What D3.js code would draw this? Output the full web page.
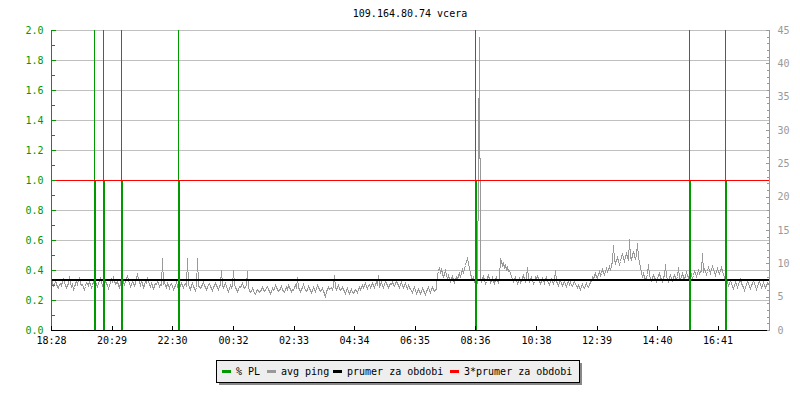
<!DOCTYPE html>
<html>
<head>
<meta charset="utf-8">
<script src="https://cdn.jsdelivr.net/npm/d3@7"></script>
<style>
  html, body { margin: 0; padding: 0; background: #ffffff; }
  svg { display: block; font-family: "DejaVu Sans Mono", monospace; }
</style>
</head>
<body>
<svg id="chart" width="800" height="400"></svg>
<script>
// ---------- data ----------
const title = "109.164.80.74 vcera";
const xTickLabels = ["18:28","20:29","22:30","00:32","02:33","04:34","06:35","08:36","10:38","12:39","14:40","16:41"];
const xTickMinutes = [0,121,242,364,485,606,727,848,970,1091,1212,1333]; // minutes after 18:28
const xDomainMinutes = [0, 1436];
const leftTicks = [0,0.2,0.4,0.6,0.8,1.0,1.2,1.4,1.6,1.8,2.0];
const rightTicks = [0,5,10,15,20,25,30,35,40,45];

// packet loss events (% PL), minutes after 18:28
const plTimes  = [86, 103, 140, 254, 847, 1275, 1347];
const plValues = [3.0, 3.0, 3.0, 3.0, 3.0, 3.0, 3.0];

// average ping (ms), one sample every 2 minutes from 18:28
const pingStepMin = 2;
const pingValues = [
  6.9,7.2,6.6,6.8,7.4,7.1,6.5,6.3,6.9,7.0,6.7,7.3,7.6,7.2,6.8,6.4,6.7,7.1,8.1,7.0,6.6,6.9,6.2,6.5,7.0,7.3,6.9,7.5,7.8,7.1,6.7,6.9,6.4,6.1,6.6,7.2,7.0,6.8,7.3,6.9,6.5,6.8,7.4,7.0,
  7.3,6.9,6.6,7.0,7.5,7.8,7.2,6.8,7.1,8.3,7.4,7.0,6.7,6.3,6.8,7.2,7.6,7.3,8.0,7.5,6.9,7.1,7.4,6.8,6.5,7.0,8.4,7.6,7.2,6.9,
  7.3,7.7,8.2,7.5,7.0,6.6,6.9,7.4,7.1,6.7,7.0,7.8,8.5,7.6,7.2,6.8,7.3,7.0,6.4,6.8,7.5,7.2,7.9,7.4,6.9,6.6,7.1,6.8,6.2,6.7,
  7.1,6.9,7.4,7.0,6.6,6.9,
  6.8,10.8,6.9,7.2,6.8,6.5,7.0,6.7,6.3,6.9,7.1,6.6,6.2,6.5,6.8,7.2,6.7,6.0,6.4,6.7,
  7.0,6.8,6.5,6.9,7.1,6.6,10.8,6.9,6.5,6.2,6.7,7.0,6.6,6.3,6.0,6.4,10.8,6.8,6.5,6.3,
  6.6,6.9,7.2,6.8,6.4,6.1,6.5,6.9,7.0,6.6,6.3,6.0,6.4,6.7,7.1,6.8,6.5,6.2,6.6,6.9,
  9.0,6.7,6.4,6.8,7.0,6.6,6.2,5.9,6.3,6.7,6.5,6.8,9.0,6.9,6.5,6.1,5.8,6.2,6.6,6.4,
  6.8,7.0,6.6,6.3,6.5,6.9,8.8,6.4,6.0,5.7,5.9,6.3,6.0,5.6,5.4,5.8,6.2,6.0,5.7,5.9,
  6.2,6.5,6.1,5.8,6.0,6.4,6.6,6.2,5.9,5.6,5.9,6.3,6.0,6.2,6.7,6.4,6.1,5.8,6.0,6.3,
  6.6,6.2,5.9,5.7,6.1,6.4,6.2,6.8,6.5,6.1,5.8,6.2,6.0,6.4,6.7,6.3,8.0,6.4,6.1,5.9,
  6.2,6.5,6.9,6.4,6.0,5.8,6.1,6.6,6.3,6.0,5.7,6.0,6.4,6.2,5.9,6.3,6.7,6.5,6.1,5.8,
  6.0,6.3,5.9,5.6,4.9,5.8,6.2,6.5,6.1,6.3,
  6.5,6.2,6.6,8.3,6.4,6.1,6.5,6.8,6.3,6.0,6.2,6.5,6.1,5.8,5.6,6.0,6.3,5.9,5.5,5.8,
  6.1,5.7,5.5,5.9,6.2,6.0,5.7,6.1,6.4,6.2,6.5,6.8,6.4,6.7,7.0,6.6,6.3,6.7,6.9,6.5,
  6.8,7.1,6.7,6.4,6.9,7.2,6.8,8.3,6.6,6.9,7.2,6.8,6.5,6.9,7.3,7.0,6.7,6.4,6.8,7.1,
  6.9,7.3,6.8,6.6,7.0,7.4,7.1,6.7,6.5,6.9,7.2,6.8,6.4,6.7,7.0,6.6,6.3,6.7,6.5,6.2,
  6.0,5.7,6.1,6.4,6.0,5.6,5.9,6.2,5.8,5.5,5.9,6.3,6.0,5.7,5.4,5.8,6.1,6.4,6.0,5.7,6.2,6.5,6.1,5.8,6.0,6.3,
  8.4,8.9,9.4,8.7,9.1,8.5,8.0,8.6,9.0,8.3,7.8,8.2,7.6,7.3,7.8,8.1,7.5,7.2,7.7,8.0,
  7.6,8.2,8.5,8.0,8.7,9.1,8.6,9.3,9.8,10.3,10.8,10.1,9.3,8.5,
  8.0,7.6,7.9,7.3,7.7,7.4,7.1,25.2,44.0,7.8,
  7.3,7.8,8.1,7.5,7.0,7.4,7.9,8.3,7.7,7.2,7.5,7.9,7.4,7.0,7.6,8.0,7.5,7.2,7.8,
  10.8,10.4,9.8,10.1,9.5,9.8,9.1,9.4,8.8,9.0,8.5,
  8.1,7.7,7.3,7.6,8.0,7.5,7.1,7.4,7.8,7.2,7.5,7.9,8.2,7.6,7.3,7.9,9.5,
  7.8,7.3,7.6,8.0,7.5,7.1,7.4,7.9,7.6,8.2,7.7,7.3,7.0,7.4,7.8,7.5,7.1,7.6,8.0,7.4,7.2,6.9,7.3,7.7,7.4,7.1,7.5,9.0,
  7.4,7.1,6.8,7.2,7.5,7.0,6.7,7.1,7.4,6.9,6.6,7.0,7.3,6.9,7.2,6.8,6.6,7.0,7.3,6.9,6.7,
  6.5,6.8,6.4,6.2,6.6,6.9,6.5,6.3,6.7,7.0,6.6,6.4,6.9,7.2,
  7.5,7.9,7.6,8.2,8.5,8.0,7.8,8.4,8.8,8.3,8.6,9.1,8.7,8.4,8.9,9.3,8.8,9.2,9.6,9.0,
  9.8,10.3,12.7,10.6,10.0,10.5,10.9,10.3,9.9,10.4,11.0,11.5,10.8,10.4,11.1,11.6,10.9,10.5,
  13.6,11.0,10.6,11.3,11.8,11.2,10.7,11.4,13.0,10.9,10.2,9.6,
  8.6,8.1,8.5,7.9,7.6,8.0,8.4,9.9,8.2,7.8,7.5,7.9,8.3,8.0,7.6,7.3,7.8,8.2,8.5,8.0,7.7,7.4,7.9,8.3,
  9.9,8.1,7.7,7.4,7.9,8.2,7.8,7.5,7.9,8.3,8.0,7.6,8.1,9.5,
  8.0,7.6,8.1,8.5,8.0,7.7,8.2,8.7,8.3,7.9,8.4,8.8,8.2,7.8,8.3,8.9,8.5,8.1,8.6,9.0,8.5,8.8,
  8.9,11.5,8.7,9.2,8.8,8.4,8.9,9.4,9.0,8.6,9.1,9.6,9.2,8.7,8.3,8.8,9.3,8.9,8.5,9.0,9.5,8.9,8.4,7.9,7.5,7.8,
  7.2,6.8,7.1,7.5,7.0,6.6,6.3,6.8,7.2,6.9,6.5,6.9,7.3,7.6,7.1,6.7,6.4,6.0,6.5,6.9,7.3,7.0,6.6,6.3,6.7,7.1,7.5,7.0,6.6,6.2,6.6,7.0,7.4,6.9,6.5,6.8,7.2,6.8,6.4,6.7,7.1,6.8
];
const pingAverage = 7.5;          // "prumer za obdobi"
const pingAverageFactor = 3;      // "3*prumer za obdobi"

const legendItems = ["% PL", "avg ping", "prumer za obdobi", "3*prumer za obdobi"];

// ---------- layout / style ----------
const colors = { pl: "#009900", ping: "#999999", avg: "#000000", avg3: "#ff0000", grid: "#c0c0c0", right: "#999999" };
const plot = { left: 51, right: 769, top: 30, bottom: 330 };

const svg = d3.select("#chart");

const x = d3.scaleLinear().domain(xDomainMinutes).range([plot.left, plot.right]);
const yL = d3.scaleLinear().domain([0, 2]).range([plot.bottom, plot.top]);
const yR = d3.scaleLinear().domain([0, 45]).range([plot.bottom, plot.top]);

// title
svg.append("text").attr("x", (plot.left + plot.right) / 2).attr("y", 17)
  .attr("text-anchor", "middle").attr("font-size", 10).attr("fill", "#000").text(title);

// gridlines
svg.append("g").selectAll("line").data(leftTicks.filter(d => d > 0)).join("line")
  .attr("x1", plot.left).attr("x2", plot.right)
  .attr("y1", d => Math.round(yL(d)) + 0.5).attr("y2", d => Math.round(yL(d)) + 0.5)
  .attr("stroke", colors.grid).attr("stroke-width", 1).attr("shape-rendering", "crispEdges");

// ping line
const pingData = pingValues.map((v, i) => ({ t: i * pingStepMin, v }));
svg.append("path").datum(pingData)
  .attr("fill", "none").attr("stroke", colors.ping).attr("stroke-width", 1)
  .attr("shape-rendering", "crispEdges")
  .attr("d", d3.line().x(d => Math.round(x(d.t)) + 0.5).y(d => Math.round(yR(d.v)) + 0.5));

// average line
svg.append("line").attr("x1", plot.left).attr("x2", plot.right)
  .attr("y1", Math.round(yR(pingAverage))).attr("y2", Math.round(yR(pingAverage)))
  .attr("stroke", colors.avg).attr("stroke-width", 2).attr("shape-rendering", "crispEdges");

// PL events: thick up to the 3*average level, thin above (clipped to top)
const thresholdL = yL.invert(yR(pingAverage * pingAverageFactor));
const plData = plTimes.map((t, i) => ({ t, v: plValues[i] }));
const plG = svg.append("g").attr("shape-rendering", "crispEdges");
plG.selectAll("line.thick").data(plData).join("line").attr("class", "thick")
  .attr("x1", d => Math.round(x(d.t)) + 1).attr("x2", d => Math.round(x(d.t)) + 1)
  .attr("y1", yL(0)).attr("y2", d => yL(Math.min(d.v, thresholdL)))
  .attr("stroke", colors.pl).attr("stroke-width", 2);
plG.selectAll("line.thin").data(plData.filter(d => d.v > thresholdL)).join("line").attr("class", "thin")
  .attr("x1", d => Math.round(x(d.t)) + 0.5).attr("x2", d => Math.round(x(d.t)) + 0.5)
  .attr("y1", yL(thresholdL)).attr("y2", d => yL(Math.min(d.v, 2)))
  .attr("stroke", colors.pl).attr("stroke-width", 1);

// 3*average line
svg.append("line").attr("x1", plot.left).attr("x2", plot.right)
  .attr("y1", Math.round(yR(pingAverage * pingAverageFactor)) + 0.5).attr("y2", Math.round(yR(pingAverage * pingAverageFactor)) + 0.5)
  .attr("stroke", colors.avg3).attr("stroke-width", 1).attr("shape-rendering", "crispEdges");

// left axis (green)
const leftAxis = d3.axisLeft(yL).tickValues(leftTicks).tickFormat(d3.format(".1f")).tickSize(-4).tickPadding(8);
const gL = svg.append("g").attr("transform", `translate(${plot.left + 0.5},0)`).call(leftAxis);
gL.select(".domain").attr("stroke", colors.pl).attr("d", `M0,${plot.bottom}V${plot.top}`);
gL.selectAll(".tick line").attr("stroke", colors.pl);
gL.selectAll(".tick text").attr("fill", colors.pl).attr("font-size", 10).attr("font-family", "DejaVu Sans Mono");
gL.append("g").selectAll("line").data(d3.range(0.1, 2, 0.2)).join("line")
  .attr("x1", 0).attr("x2", 3).attr("y1", d => Math.round(yL(d)) + 0.5).attr("y2", d => Math.round(yL(d)) + 0.5)
  .attr("stroke", colors.pl);
gL.attr("shape-rendering", "crispEdges");

// right axis (gray)
const rightAxis = d3.axisRight(yR).tickValues(rightTicks).tickSize(-4).tickPadding(8);
const gR = svg.append("g").attr("transform", `translate(${plot.right + 0.5},0)`).call(rightAxis);
gR.select(".domain").attr("stroke", colors.right).attr("d", `M0,${plot.bottom}V${plot.top}`);
gR.selectAll(".tick line").attr("stroke", colors.right);
gR.selectAll(".tick text").attr("fill", colors.right).attr("font-size", 10).attr("font-family", "DejaVu Sans Mono");
gR.append("g").selectAll("line").data(d3.range(1, 45).filter(d => d % 5 !== 0)).join("line")
  .attr("x1", 0).attr("x2", -3).attr("y1", d => Math.round(yR(d)) + 0.5).attr("y2", d => Math.round(yR(d)) + 0.5)
  .attr("stroke", colors.right);
gR.attr("shape-rendering", "crispEdges");

// bottom axis
const bottomAxis = d3.axisBottom(x).tickValues(xTickMinutes).tickFormat((d, i) => xTickLabels[i]).tickSize(-5).tickPadding(6);
const gB = svg.append("g").attr("transform", `translate(0,${plot.bottom + 0.5})`).call(bottomAxis);
gB.select(".domain").attr("stroke", "#000").attr("d", `M${plot.left},0H${plot.right - 2}`);
gB.selectAll(".tick line").attr("stroke", "#000");
gB.selectAll(".tick text").attr("fill", "#000").attr("font-size", 10).attr("font-family", "DejaVu Sans Mono");
gB.attr("shape-rendering", "crispEdges");

// legend
const leg = { x: 216, y: 360, w: 363, h: 22 };
svg.append("rect").attr("x", leg.x + 3).attr("y", leg.y + 3).attr("width", leg.w).attr("height", leg.h)
  .attr("fill", "#888888").attr("shape-rendering", "crispEdges");
svg.append("rect").attr("x", leg.x + 0.5).attr("y", leg.y + 0.5).attr("width", leg.w).attr("height", leg.h)
  .attr("fill", "#eeeeee").attr("stroke", "#000").attr("shape-rendering", "crispEdges");
const legColors = [colors.pl, colors.ping, colors.avg, colors.avg3];
const legX = [222, 267, 333, 450];
const legG = svg.append("g").selectAll("g").data(legendItems).join("g")
  .attr("transform", (d, i) => `translate(${legX[i]},${leg.y + 11})`);
legG.append("line").attr("x1", 0).attr("x2", 9).attr("y1", 0.5).attr("y2", 0.5)
  .attr("stroke", (d, i) => legColors[i]).attr("stroke-width", 3).attr("shape-rendering", "crispEdges");
legG.append("text").attr("x", 14).attr("y", 4).attr("font-size", 10).attr("fill", "#000").text(d => d);
</script>
</body>
</html>
